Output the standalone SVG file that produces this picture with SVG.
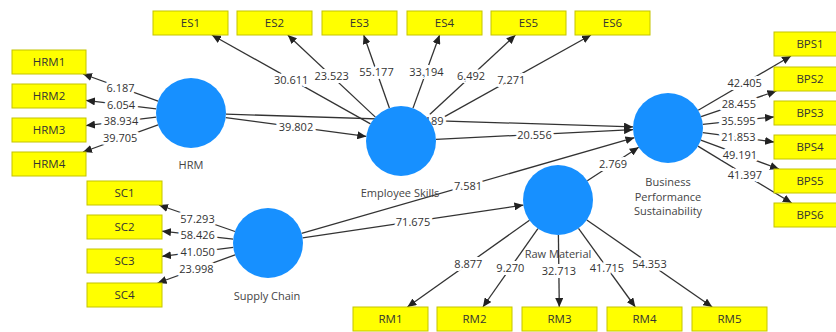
<svg xmlns="http://www.w3.org/2000/svg" width="836" height="332" viewBox="0 0 836 332">
  <style>
    .conn line { stroke: #333; stroke-width: 1.3; marker-end: url(#ah); }
    .lbl { font-family: "Open Sans", "Noto Sans", sans-serif; font-size: 11px; fill: #333; text-anchor: middle; stroke: #fff; stroke-width: 6; paint-order: stroke; stroke-linejoin: round; }
    .ind rect { fill: #ffff00; stroke: #c4c400; stroke-width: 1; }
    .ind text { font-family: "Open Sans", "Noto Sans", sans-serif; font-size: 11.5px; fill: #333; text-anchor: middle; }
    .lv circle { fill: #1790ff; }
    .lv text { font-family: "Open Sans", "Noto Sans", sans-serif; font-size: 11px; fill: #444; text-anchor: middle; }
  </style>
  <defs>
    <marker id="ah" markerWidth="10" markerHeight="8" refX="9" refY="4" orient="auto" markerUnits="userSpaceOnUse">
      <path d="M0,0 L9,4 L0,8 z" fill="#222"/>
    </marker>
  </defs>
  <rect width="836" height="332" fill="#fff"/>

  <!-- connectors: outer loadings and structural paths -->
  <g id="connectors" class="conn">
    <line x1="158.1" y1="101.2" x2="83" y2="74"/>
    <line x1="156.2" y1="108.8" x2="86" y2="100.4"/>
    <line x1="156.2" y1="117.2" x2="86" y2="125.6"/>
    <line x1="158.1" y1="124.8" x2="83" y2="152"/>

    <line x1="235" y1="231.5" x2="159" y2="205"/>
    <line x1="233.2" y1="239.1" x2="162" y2="231.2"/>
    <line x1="233.3" y1="247.4" x2="162" y2="256.3"/>
    <line x1="235.1" y1="254.9" x2="157.6" y2="283"/>

    <line x1="370.5" y1="123.9" x2="211.9" y2="35"/>
    <line x1="375.4" y1="117.1" x2="287.8" y2="35"/>
    <line x1="389.4" y1="108" x2="363.7" y2="35"/>
    <line x1="413" y1="108.1" x2="439.6" y2="35"/>
    <line x1="426.7" y1="117.2" x2="515.5" y2="35"/>
    <line x1="431.6" y1="123.9" x2="591" y2="35"/>

    <line x1="698.2" y1="110.3" x2="791" y2="56"/>
    <line x1="701.1" y1="116.7" x2="776.4" y2="91"/>
    <line x1="702.8" y1="124.4" x2="774" y2="116.9"/>
    <line x1="702.7" y1="132.6" x2="774" y2="142"/>
    <line x1="700.8" y1="140.1" x2="779" y2="169"/>
    <line x1="697.9" y1="146.1" x2="791.7" y2="203"/>

    <line x1="529.5" y1="220.3" x2="407.4" y2="307"/>
    <line x1="537.9" y1="228.6" x2="482.9" y2="307"/>
    <line x1="558.4" y1="235" x2="559.3" y2="307"/>
    <line x1="578.5" y1="228.4" x2="635.3" y2="307"/>
    <line x1="586.8" y1="220" x2="712.2" y2="307"/>

    <line x1="225.7" y1="117.6" x2="366.3" y2="136.4"/>
    <line x1="226" y1="114.1" x2="633" y2="126.9"/>
    <line x1="436" y1="139.3" x2="633" y2="129.7"/>
    <line x1="301.6" y1="233.3" x2="634.4" y2="137.7"/>
    <line x1="302.6" y1="237.9" x2="523.4" y2="205.1"/>
    <line x1="587.3" y1="180.8" x2="638.7" y2="147.2"/>
  </g>

  <!-- path coefficient labels -->
  <g id="coefficients">
    <text class="lbl" x="120.5" y="92">6.187</text>
    <text class="lbl" x="121" y="108.6">6.054</text>
    <text class="lbl" x="121" y="125.4">38.934</text>
    <text class="lbl" x="120.2" y="142.4">39.705</text>

    <text class="lbl" x="197.5" y="222.5">57.293</text>
    <text class="lbl" x="197.6" y="239.2">58.426</text>
    <text class="lbl" x="197.6" y="255.8">41.050</text>
    <text class="lbl" x="196.4" y="273">23.998</text>

    <text class="lbl" x="291.2" y="83.5">30.611</text>
    <text class="lbl" x="331.6" y="80">23.523</text>
    <text class="lbl" x="376.5" y="75.5">55.177</text>
    <text class="lbl" x="426.3" y="75.6">33.194</text>
    <text class="lbl" x="471.1" y="80.1">6.492</text>
    <text class="lbl" x="511.3" y="83.5">7.271</text>

    <text class="lbl" x="744.6" y="87.2">42.405</text>
    <text class="lbl" x="738.8" y="107.9">28.455</text>
    <text class="lbl" x="738.4" y="124.6">35.595</text>
    <text class="lbl" x="738.4" y="141.3">21.853</text>
    <text class="lbl" x="739.9" y="158.6">49.191</text>
    <text class="lbl" x="744.8" y="178.5">41.397</text>

    <text class="lbl" x="468.4" y="267.7">8.877</text>
    <text class="lbl" x="510.4" y="271.8">9.270</text>
    <text class="lbl" x="558.9" y="275">32.713</text>
    <text class="lbl" x="606.9" y="271.7">41.715</text>
    <text class="lbl" x="649.5" y="267.5">54.353</text>

    <text class="lbl" x="296" y="131">39.802</text>
    <text class="lbl" x="443.5" y="124.5" style="text-anchor:end">189</text>
    <text class="lbl" x="534.5" y="138.5">20.556</text>
    <text class="lbl" x="468" y="189.5">7.581</text>
    <text class="lbl" x="413" y="225.5">71.675</text>
    <text class="lbl" x="613" y="168">2.769</text>
  </g>

  <!-- indicator boxes -->
  <g id="HRM1" class="ind"><rect x="12" y="50" width="74" height="24"/><text x="49" y="66">HRM1</text></g>
  <g id="HRM2" class="ind"><rect x="12" y="84" width="74" height="24"/><text x="49" y="100">HRM2</text></g>
  <g id="HRM3" class="ind"><rect x="12" y="118" width="74" height="24"/><text x="49" y="134">HRM3</text></g>
  <g id="HRM4" class="ind"><rect x="12" y="152" width="74" height="24"/><text x="49" y="168">HRM4</text></g>

  <g id="SC1" class="ind"><rect x="87" y="181" width="75" height="24"/><text x="124.5" y="197">SC1</text></g>
  <g id="SC2" class="ind"><rect x="87" y="215" width="75" height="24"/><text x="124.5" y="231">SC2</text></g>
  <g id="SC3" class="ind"><rect x="87" y="249" width="75" height="24"/><text x="124.5" y="265">SC3</text></g>
  <g id="SC4" class="ind"><rect x="87" y="283" width="75" height="24"/><text x="124.5" y="299">SC4</text></g>

  <g id="ES1" class="ind"><rect x="153" y="11" width="75" height="24"/><text x="190.5" y="27">ES1</text></g>
  <g id="ES2" class="ind"><rect x="237" y="11" width="75" height="24"/><text x="274.5" y="27">ES2</text></g>
  <g id="ES3" class="ind"><rect x="322" y="11" width="75" height="24"/><text x="359.5" y="27">ES3</text></g>
  <g id="ES4" class="ind"><rect x="407" y="11" width="75" height="24"/><text x="444.5" y="27">ES4</text></g>
  <g id="ES5" class="ind"><rect x="491" y="11" width="75" height="24"/><text x="528.5" y="27">ES5</text></g>
  <g id="ES6" class="ind"><rect x="575" y="11" width="75" height="24"/><text x="612.5" y="27">ES6</text></g>

  <g id="BPS1" class="ind"><rect x="774" y="32" width="75" height="24"/><text x="810" y="48">BPS1</text></g>
  <g id="BPS2" class="ind"><rect x="774" y="67" width="75" height="24"/><text x="810" y="83">BPS2</text></g>
  <g id="BPS3" class="ind"><rect x="774" y="101" width="75" height="24"/><text x="810" y="117">BPS3</text></g>
  <g id="BPS4" class="ind"><rect x="774" y="135" width="75" height="24"/><text x="810" y="151">BPS4</text></g>
  <g id="BPS5" class="ind"><rect x="774" y="169" width="75" height="24"/><text x="810" y="185">BPS5</text></g>
  <g id="BPS6" class="ind"><rect x="774" y="203" width="75" height="24"/><text x="810" y="219">BPS6</text></g>

  <g id="RM1" class="ind"><rect x="353" y="307" width="75" height="24"/><text x="390.5" y="323">RM1</text></g>
  <g id="RM2" class="ind"><rect x="437" y="307" width="75" height="24"/><text x="474.5" y="323">RM2</text></g>
  <g id="RM3" class="ind"><rect x="522" y="307" width="75" height="24"/><text x="559.5" y="323">RM3</text></g>
  <g id="RM4" class="ind"><rect x="607" y="307" width="75" height="24"/><text x="644.5" y="323">RM4</text></g>
  <g id="RM5" class="ind"><rect x="692" y="307" width="75" height="24"/><text x="729.5" y="323">RM5</text></g>

  <!-- latent variables -->
  <g id="HRM" class="lv"><circle cx="191" cy="113" r="35"/><text x="191" y="169">HRM</text></g>
  <g id="EmployeeSkills" class="lv"><circle cx="401" cy="141" r="35"/><text x="400" y="197">Employee Skills</text></g>
  <g id="BusinessPerformanceSustainability" class="lv"><circle cx="668" cy="128" r="35"/>
    <text x="668" y="186">Business</text><text x="668" y="200.5">Performance</text><text x="668" y="215">Sustainability</text></g>
  <g id="SupplyChain" class="lv"><circle cx="268" cy="243" r="35"/><text x="267" y="300">Supply Chain</text></g>
  <g id="RawMaterial" class="lv"><circle cx="558" cy="200" r="35"/><text x="558" y="258">Raw Material</text></g>
</svg>
